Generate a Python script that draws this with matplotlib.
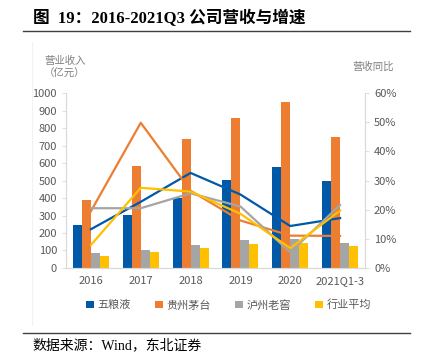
import matplotlib.pyplot as plt
import numpy as np

plt.rcParams['font.family'] = ['Noto Sans CJK SC', 'DejaVu Sans']

years = ['2016', '2017', '2018', '2019', '2020', '2021Q1-3']
names = ['五粮液', '贵州茅台', '泸州老窖', '行业平均']
colors = ['#0058A8', '#ED7D31', '#A5A5A5', '#FFC000']

# 营业收入（亿元）
rev_wly = [245, 302, 400, 502, 577, 497]
rev_mt = [388, 583, 736, 855, 950, 747]
rev_lzlj = [86, 103, 130, 158, 166, 143]
rev_avg = [70, 91, 114, 135, 145, 126]

# 营收同比 (%)
g_wly = [13.3, 22.7, 32.6, 25.2, 14.4, 17.1]
g_mt = [19.5, 49.8, 26.5, 16.3, 11.1, 11.0]
g_lzlj = [20.5, 20.5, 25.6, 21.1, 5.4, 21.6]
g_avg = [7.9, 27.5, 26.2, 18.6, 6.8, 19.7]

revenues = [rev_wly, rev_mt, rev_lzlj, rev_avg]
growths = [g_wly, g_mt, g_lzlj, g_avg]

fig = plt.figure(figsize=(4.27, 3.53), dpi=100)
ax = fig.add_axes([0.1546, 0.2408, 0.7002, 0.4957])
ax2 = ax.twinx()

x = np.arange(len(years))
w = 0.18
for i, (vals, c, n) in enumerate(zip(revenues, colors, names)):
    ax.bar(x + (i - 1.5) * w, vals, width=w, color=c, label=n, zorder=2)

for g, c in zip(growths, colors):
    ax2.plot(x, g, color=c, lw=1.6, zorder=3)

ax.set_xlim(-0.5, 5.5)
ax.set_ylim(0, 1000)
ax.set_yticks(range(0, 1001, 100))
ax2.set_ylim(0, 60)
ax2.set_yticks(range(0, 61, 10))
ax2.set_yticklabels([f'{v}%' for v in range(0, 61, 10)])
ax.set_xticks(x)
ax.set_xticklabels(years)

tc = '#595959'
for a in (ax, ax2):
    for s in a.spines.values():
        s.set_color('#D9D9D9')
        s.set_linewidth(0.8)
    a.spines['top'].set_visible(False)
    a.tick_params(labelsize=8, colors=tc, length=3, width=0.6)
    a.tick_params(axis='y', color='#D9D9D9')
ax.tick_params(axis='x', length=0, pad=6)
ax2.set_zorder(ax.get_zorder() + 1)
ax2.patch.set_visible(False)

fig.text(0.152, 0.81, '营业收入\n（亿元）', ha='center', va='center', fontsize=7.5,
         color='#7F7F7F', linespacing=1.3)
fig.text(0.875, 0.81, '营收同比', ha='center', va='center', fontsize=7.5, color='#7F7F7F')

handles, labels = ax.get_legend_handles_labels()
leg = fig.legend(handles, labels, loc='center', bbox_to_anchor=(0.535, 0.136), ncol=4,
                 frameon=False, fontsize=8, handlelength=0.7, handleheight=0.7,
                 handletextpad=0.3, columnspacing=2.2, labelcolor=tc)

fig.text(0.077, 0.947, '图  19：2016-2021Q3 公司营收与增速', fontsize=12, fontweight='bold',
         family=['Liberation Serif', 'Noto Sans CJK SC'], va='center', ha='left')
fig.add_artist(plt.Line2D([0.054, 0.96], [0.912, 0.912], color='#404040', lw=1.0))
fig.add_artist(plt.Line2D([0.054, 0.96], [0.058, 0.058], color='#404040', lw=1.0))
fig.add_artist(plt.Line2D([0.075, 0.075], [0.08, 0.88], color='#F2F2F2', lw=0.8))
fig.text(0.077, 0.022, '数据来源：Wind，东北证券', fontsize=10,
         family=['Liberation Serif', 'Noto Sans CJK SC'], va='center', ha='left')

fig.savefig('out.png', dpi=100)
